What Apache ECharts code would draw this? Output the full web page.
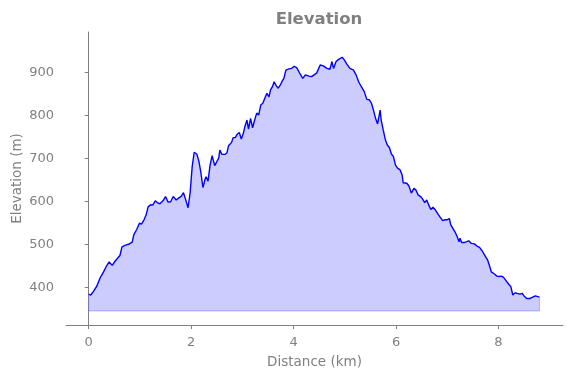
<!DOCTYPE html>
<html><head><meta charset="utf-8">
<script src="https://cdn.jsdelivr.net/npm/echarts@6/dist/echarts.min.js"></script>
<style>html,body{margin:0;padding:0;background:#fff}#c{width:571px;height:378px}</style>
</head><body><div id="c"></div>
<script>
const distKm = [0.00,0.04,0.09,0.16,0.22,0.29,0.35,0.40,0.46,0.51,0.56,0.61,0.65,0.72,0.78,0.85,0.88,0.94,0.99,1.03,1.08,1.12,1.16,1.21,1.25,1.30,1.34,1.39,1.45,1.50,1.55,1.60,1.65,1.71,1.76,1.81,1.85,1.89,1.94,1.98,2.02,2.06,2.11,2.15,2.19,2.23,2.27,2.29,2.33,2.37,2.41,2.46,2.50,2.54,2.56,2.60,2.66,2.70,2.73,2.79,2.82,2.86,2.90,2.94,2.98,3.02,3.05,3.09,3.12,3.16,3.20,3.24,3.28,3.32,3.36,3.40,3.44,3.48,3.52,3.55,3.59,3.62,3.66,3.70,3.74,3.78,3.81,3.85,3.91,3.96,4.01,4.06,4.11,4.18,4.23,4.30,4.35,4.40,4.45,4.52,4.58,4.65,4.71,4.75,4.78,4.83,4.88,4.95,4.99,5.04,5.10,5.17,5.22,5.27,5.32,5.38,5.43,5.48,5.52,5.56,5.60,5.64,5.66,5.69,5.71,5.75,5.79,5.83,5.87,5.91,5.95,5.99,6.03,6.08,6.12,6.14,6.21,6.25,6.30,6.35,6.39,6.43,6.48,6.52,6.56,6.60,6.64,6.68,6.72,6.76,6.81,6.86,6.91,6.96,7.00,7.04,7.07,7.11,7.15,7.19,7.23,7.25,7.28,7.33,7.38,7.42,7.47,7.53,7.58,7.63,7.68,7.73,7.79,7.82,7.86,7.92,7.97,8.01,8.06,8.10,8.15,8.20,8.24,8.28,8.32,8.36,8.38,8.42,8.46,8.50,8.55,8.62,8.67,8.72,8.75,8.80];
const elevM = [384,382,390,403,421,436,450,459,451,460,467,474,494,498,500,505,522,535,549,547,557,568,587,592,591,601,597,594,601,611,598,599,611,603,608,612,620,605,585,619,680,714,710,694,667,632,650,657,647,684,706,683,692,701,719,709,709,713,729,737,748,748,756,760,745,758,774,789,768,793,771,789,805,801,824,828,840,851,843,859,867,878,869,863,870,880,886,905,908,909,914,911,900,886,894,891,890,894,898,917,915,909,907,925,909,925,930,935,929,919,909,905,894,878,867,855,837,836,828,812,793,780,793,812,789,766,744,731,725,710,704,684,677,673,661,643,642,636,619,630,626,615,611,605,597,603,591,581,586,581,572,563,555,557,557,560,545,537,529,519,506,514,504,504,506,508,502,501,496,493,485,475,463,452,436,431,426,425,426,423,415,407,402,382,387,386,390,384,386,380,374,374,377,380,382,377];
const xTicks = [0,2,4,6,8];
const yTicks = [400,500,600,700,800,900];
const fillBase = 345;

const lineData = distKm.map((d,i)=>[d, elevM[i]]);
const last = distKm.length-1;
const outline = [[distKm[0], elevM[0]],[distKm[0], fillBase],[distKm[last], fillBase],[distKm[last], elevM[last]]];
const gray = '#808080';
const font = 'DejaVu Sans';
const chart = echarts.init(document.getElementById('c'), null, {renderer:'canvas'});
chart.setOption({
  animation:false,
  title:{text:'Elevation', left:314, top:6, textAlign:'center',
    textStyle:{color:gray, fontSize:16.5, fontWeight:'bold', fontFamily:font}},
  grid:{left:66, right:8, top:32, bottom:53, containLabel:false, outerBoundsMode:'none'},
  xAxis:{type:'value', min:-0.443, max:9.26,
    name:'Distance (km)', nameLocation:'middle', nameGap:30, nameMoveOverlap:false,
    nameTextStyle:{color:gray, fontSize:13.5, fontFamily:font},
    axisLine:{show:true, lineStyle:{color:gray, width:1}},
    axisTick:{show:true, length:4, customValues:xTicks, lineStyle:{color:gray}},
    axisLabel:{color:gray, fontSize:13, fontFamily:font, margin:11, customValues:xTicks},
    splitLine:{show:false}},
  yAxis:{type:'value', min:312.3, max:993.7,
    name:'Elevation (m)', nameLocation:'middle', nameGap:42, nameRotate:90, nameMoveOverlap:false,
    nameTextStyle:{color:gray, fontSize:13.5, fontFamily:font},
    axisLine:{show:true, lineStyle:{color:gray, width:1}},
    axisTick:{show:true, length:4, customValues:yTicks, lineStyle:{color:gray}},
    axisLabel:{color:gray, fontSize:13, fontFamily:font, margin:12, customValues:yTicks},
    splitLine:{show:false}},
  series:[
    {type:'line', data:lineData, showSymbol:false, symbol:'none',
      lineStyle:{color:'#0000ff', width:1.4},
      areaStyle:{color:'#ccccff', opacity:1, origin:fillBase}, z:3},
    {type:'line', data:outline, showSymbol:false, symbol:'none',
      lineStyle:{color:'rgba(0,0,255,0.25)', width:1}, z:4}
  ]
});
</script></body></html>
